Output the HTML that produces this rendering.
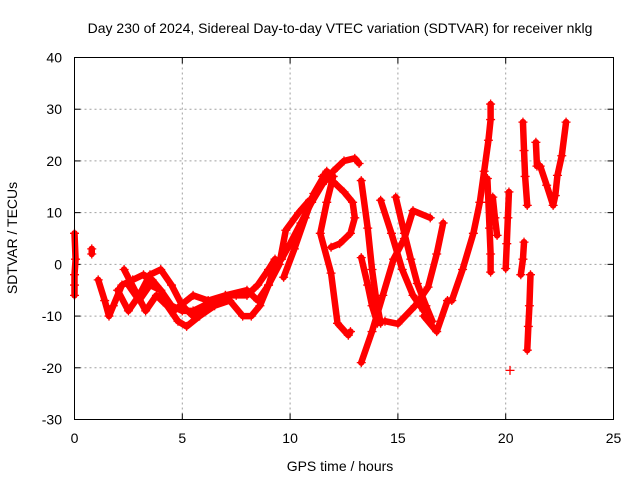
<!DOCTYPE html>
<html><head><meta charset="utf-8"><style>
html,body{margin:0;padding:0;background:#fff;}
svg text{font-family:"Liberation Sans",sans-serif;font-size:14px;fill:#000;}
</style></head><body>
<svg id="chart" width="640" height="480" viewBox="0 0 640 480" xmlns="http://www.w3.org/2000/svg">
<rect width="640" height="480" fill="#fff"/>
<text x="340" y="33" text-anchor="middle">Day 230 of 2024, Sidereal Day-to-day VTEC variation (SDTVAR) for receiver nklg</text>
<text x="340" y="471" text-anchor="middle">GPS time / hours</text>
<text transform="translate(17,238) rotate(-90)" text-anchor="middle">SDTVAR / TECUs</text>
<g id="grid"></g>
<g id="ticks"></g>
<g id="marks"></g>
<rect x="74.5" y="57.5" width="539" height="362" fill="none" stroke="#000" stroke-width="1"/>
</svg>
<script>
const xTicks=[0,5,10,15,20,25];
const yTicks=[-30,-20,-10,0,10,20,30,40];
const xLabels=["0","5","10","15","20","25"];
const yLabels=["-30","-20","-10","0","10","20","30","40"];
// traces: [time(hours), SDTVAR]
const trace1=[[0,-6],[0,-4],[0,-2],[0.05,1],[0,6]];
const trace2=[[0.8,2],[0.8,3]];
const trace3=[[1.1,-3],[1.4,-7],[1.6,-10],[1.8,-8],[2.2,-4],[2.7,-3],[3.2,-2],[3.6,-3],[4,-5],[4.5,-8],[5,-9],[5.5,-9],[6,-8],[6.5,-7],[7,-6],[7.5,-6],[8,-6],[8.5,-4],[9,-1],[9.3,1]];
const trace4=[[2,-5],[2.5,-9],[3,-6],[3.5,-2],[4,-1],[4.5,-4],[5,-8],[5.5,-10],[6,-8],[6.5,-7]];
const trace5=[[2.3,-1],[2.8,-5],[3.3,-9],[3.8,-6],[4.3,-8],[4.8,-11],[5.2,-12],[5.8,-10],[6.5,-8],[7.2,-7],[7.8,-10],[8.2,-10],[8.6,-8],[9,-4],[9.3,0],[9.6,1],[10,4],[10.5,8],[11,12],[11.5,15.5],[12,18],[12.5,20],[13,20.5],[13.2,19.5]];
const trace6=[[2.5,-4],[3,-7],[3.5,-4],[4,-5],[4.6,-9],[5.5,-6],[6.2,-7],[7,-6],[8,-5],[8.5,-7],[9,-4],[9.5,0],[9.8,6.6],[10.4,10],[10.9,12.4]];
const trace7=[[9.7,-2.5],[10.2,3],[10.7,9],[11.1,13.7],[11.7,18],[12,17],[11.7,12],[11.4,6],[11.9,-1.7],[12.2,-11.4],[12.7,-13.7],[12.8,-13]];
const trace8=[[11.9,3.3],[12.3,4],[12.8,6],[13,9],[12.9,12],[12.5,14],[12,16],[11.5,17]];
const trace9=[[13.3,16.2],[13.6,7],[13.8,-1],[14,-7],[14.2,-11.4]];
const trace10=[[13.3,1.3],[13.6,-4],[13.8,-8],[14.05,-11.4]];
const trace11=[[13.3,-19],[13.8,-13],[14.3,-6],[14.8,1],[15.3,5],[15.7,10.4],[16.5,9]];
const trace12=[[14.2,12.4],[14.7,6],[15.2,-1],[15.7,-6],[16.2,-9]];
const trace13=[[14.9,13],[15.3,6],[15.6,1],[15.9,-3.7],[16.3,-8],[16.6,-11]];
const trace14=[[17.1,8],[16.8,2],[16.4,-4.4],[15.8,-8],[15,-11.5],[14.4,-11]];
const trace15=[[16.2,-10],[16.8,-13],[17.3,-7],[17.5,-7],[18,-1],[18.5,6],[18.8,12],[19,18],[19.2,24],[19.3,28],[19.3,31]];
const trace16=[[19.15,16.6],[19.2,12],[19.25,7],[19.3,2],[19.3,-1.5]];
const trace17=[[19.4,13],[19.5,9],[19.6,5.6]];
const trace18=[[20.15,14],[20.1,9],[20.05,4],[20,-0.8]];
const trace19=[[20.2,-20.5]];
const trace20=[[20.85,4.3],[20.8,1],[20.7,-2]];
const trace21=[[21.15,-2],[21.1,-8],[21.05,-12],[21,-16.6]];
const trace22=[[20.8,27.5],[20.85,22],[20.9,17],[21,11.4]];
const trace23=[[21.4,23.6],[21.45,19],[21.6,19],[21.9,15.3],[22.2,11.4],[22.3,13.3],[22.4,17.2],[22.6,21],[22.8,27.5]];
const traces=[trace1,trace2,trace3,trace4,trace5,trace6,trace7,trace8,trace9,trace10,trace11,trace12,trace13,trace14,trace15,trace16,trace17,trace18,trace19,trace20,trace21,trace22,trace23];

const X0=74.5,X1=613.5,Y0=419.5,Y1=57.5;
function sx(t){return X0+(t-0)/(25-0)*(X1-X0);}
function sy(v){return Y0-(v+30)/(40+30)*(Y0-Y1);}
const NS="http://www.w3.org/2000/svg";
function mk(tag,attrs,parent){const e=document.createElementNS(NS,tag);for(const k in attrs)e.setAttribute(k,attrs[k]);parent.appendChild(e);return e;}
const grid=document.getElementById('grid'),ticks=document.getElementById('ticks'),marks=document.getElementById('marks');
xTicks.forEach((t,i)=>{
  const x=sx(t);
  if(i>0&&i<xTicks.length-1){const g=mk('line',{x1:x,x2:x,y1:Y1,y2:Y0,stroke:'#a0a0a0','stroke-dasharray':'2,3'},grid);
  
  }
  mk('line',{x1:x,x2:x,y1:Y0,y2:Y0-6,stroke:'#000'},ticks);
  mk('line',{x1:x,x2:x,y1:Y1,y2:Y1+6,stroke:'#000'},ticks);
  const l=mk('text',{x:x,y:443,'text-anchor':'middle'},ticks);l.textContent=xLabels[i];
  
  
});
yTicks.forEach((v,i)=>{
  const y=sy(v);
  if(i>0&&i<yTicks.length-1){const g=mk('line',{x1:X0,x2:X1,y1:y,y2:y,stroke:'#a0a0a0','stroke-dasharray':'2,3'},grid);
  
  }
  mk('line',{x1:X0,x2:X0+6,y1:y,y2:y,stroke:'#000'},ticks);
  mk('line',{x1:X1,x2:X1-6,y1:y,y2:y,stroke:'#000'},ticks);
  const l=mk('text',{x:62,y:y+5,'text-anchor':'end'},ticks);l.textContent=yLabels[i];
  
  
});
traces.forEach((tr,k)=>{
  const g=mk('g',{},marks);
  
  
  if(tr.length>1){
    const pl=mk('polyline',{points:tr.map(p=>sx(p[0])+','+sy(p[1])).join(' '),fill:'none',stroke:'#ff0000','stroke-width':6.5,'stroke-linejoin':'round','stroke-linecap':'round'},g);
    
    
  }
  tr.forEach(p=>{
    const x=sx(p[0]),y=sy(p[1]);
    const m=mk('path',{d:`M${x-4.5},${y}H${x+4.5}M${x},${y-4.5}V${y+4.5}`,stroke:'#ff0000','stroke-width':1.3},g);
    
    
  });
});
</script>
</body></html>
